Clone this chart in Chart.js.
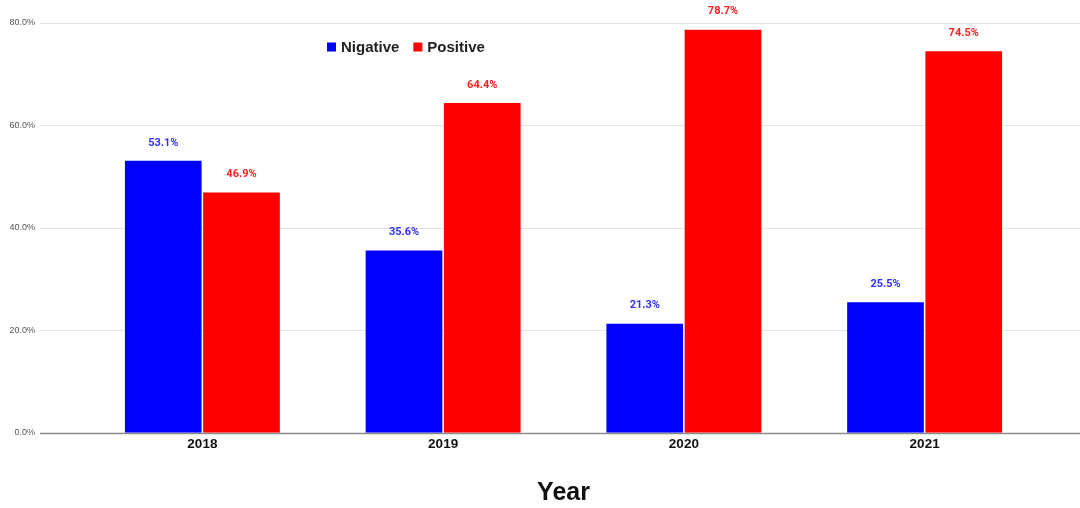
<!DOCTYPE html>
<html>
<head>
<meta charset="utf-8">
<script src="https://cdn.jsdelivr.net/npm/chart.js@4.4.0/dist/chart.umd.min.js"></script>
<style>
  html, body { margin: 0; padding: 0; background: #fff; }
  #wrap { width: 1080px; height: 508px; }
</style>
</head>
<body>
<div id="wrap"><canvas id="chart" width="1080" height="508"></canvas></div>
<script>
// Sentiment share per year
const years = ['2018', '2019', '2020', '2021'];
const negative = [53.1, 35.6, 21.3, 25.5];
const positive = [46.9, 64.4, 78.7, 74.5];
const yTicks = [0, 20, 40, 60, 80];

const BLUE = '#0000ff';
const RED = '#ff0000';

// full-width grid lines, like the sheet export
const gridPlugin = {
    id: 'fullGrid',
    beforeDatasetsDraw(chart) {
        const ctx = chart.ctx;
        const y = chart.scales.y;
        ctx.save();
        yTicks.forEach(v => {
            const py = Math.round(y.getPixelForValue(v)) + 0.5;
            ctx.strokeStyle = v === 0 ? '#8a8a8a' : '#e3e3e3';
            ctx.lineWidth = v === 0 ? 1.5 : 1;
            ctx.beginPath();
            ctx.moveTo(40, py);
            ctx.lineTo(chart.width, py);
            ctx.stroke();
        });
        ctx.restore();
    }
};

// value labels above each bar
const valueLabels = {
    id: 'valueLabels',
    afterDatasetsDraw(chart) {
        const ctx = chart.ctx;
        ctx.save();
        ctx.font = 'bold 11px Roboto';
        ctx.textAlign = 'center';
        ctx.textBaseline = 'middle';
        chart.data.datasets.forEach((ds, i) => {
            ctx.fillStyle = i === 0 ? '#3030ff' : '#ff2020';
            chart.getDatasetMeta(i).data.forEach((bar, j) => {
                ctx.fillText(ds.data[j].toFixed(1) + '%', bar.x, bar.y - 18);
            });
        });
        ctx.restore();
    }
};

// small legend inside the plot, upper left
const legendPlugin = {
    id: 'legendBox',
    afterDraw(chart) {
        const ctx = chart.ctx;
        ctx.save();
        ctx.font = 'bold 15px "Liberation Sans"';
        ctx.textBaseline = 'middle';
        let x = 327;
        const y = 47;
        chart.data.datasets.forEach(ds => {
            ctx.fillStyle = ds.backgroundColor;
            ctx.fillRect(x, y - 4.5, 9, 9);
            ctx.fillStyle = '#222';
            ctx.fillText(ds.label, x + 14, y + 1);
            x += 14 + ctx.measureText(ds.label).width + 14;
        });
        ctx.restore();
    }
};

const ctx = document.getElementById('chart').getContext('2d');
new Chart(ctx, {
    type: 'bar',
    data: {
        labels: years,
        datasets: [
            { label: 'Nigative', data: negative, backgroundColor: BLUE },
            { label: 'Positive', data: positive, backgroundColor: RED }
        ]
    },
    options: {
        responsive: false,
        animation: false,
        layout: { padding: { top: 23, right: 35, left: 0, bottom: 0 } },
        datasets: {
            bar: {
                categoryPercentage: 0.65,
                barPercentage: 0.98
            }
        },
        plugins: {
            legend: { display: false },
            tooltip: { enabled: false }
        },
        scales: {
            x: {
                grid: { display: false, drawTicks: false },
                border: { display: false },
                ticks: {
                    color: '#111',
                    font: { family: 'Liberation Sans', size: 13.5, weight: 'bold' },
                    padding: 3
                },
                title: {
                    display: true,
                    text: 'Year',
                    color: '#111',
                    font: { family: 'Liberation Sans', size: 25, weight: 'bold' },
                    padding: { top: 23, bottom: 0 }
                }
            },
            y: {
                min: 0,
                max: 80,
                grid: { display: false, drawTicks: false },
                border: { display: false },
                ticks: {
                    stepSize: 20,
                    color: '#555',
                    font: { family: 'Liberation Sans', size: 9 },
                    padding: 47,
                    callback: v => v.toFixed(1) + '%'
                },
                afterFit(scale) {
                    scale.width = 82;
                    // the big label padding should not eat the top of the plot
                    scale.paddingTop = 5;
                    scale.paddingBottom = 5;
                }
            }
        }
    },
    plugins: [gridPlugin, valueLabels, legendPlugin]
});
</script>
</body>
</html>
